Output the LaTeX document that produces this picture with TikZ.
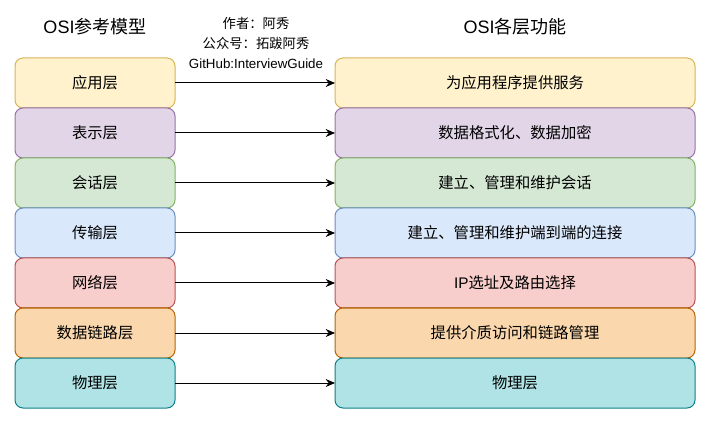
\documentclass[tikz,border=0pt]{standalone}
\usepackage{fontspec}
\setmainfont{Noto Sans CJK SC}
\newfontfamily\lat{Liberation Sans}
\usepackage{tikz}
\usetikzlibrary{arrows.meta, positioning}
\definecolor{yfill}{HTML}{FFF2CC}\definecolor{ydraw}{HTML}{D6B656}
\definecolor{pfill}{HTML}{E1D5E7}\definecolor{pdraw}{HTML}{9673A6}
\definecolor{gfill}{HTML}{D5E8D4}\definecolor{gdraw}{HTML}{82B366}
\definecolor{bfill}{HTML}{DAE8FC}\definecolor{bdraw}{HTML}{6C8EBF}
\definecolor{rfill}{HTML}{F8CECC}\definecolor{rdraw}{HTML}{B85450}
\definecolor{ofill}{HTML}{FAD7AC}\definecolor{odraw}{HTML}{B46504}
\definecolor{cfill}{HTML}{B0E3E6}\definecolor{cdraw}{HTML}{0E8088}
\tikzstyle{layer} = [rectangle, rounded corners=6pt, minimum width=120pt, minimum height=37.5pt, inner sep=0pt, outer sep=0pt, text centered, line width=0.75pt, font=\fontsize{11.5pt}{13pt}\selectfont]
\tikzstyle{func} = [layer, minimum width=270pt]
\tikzstyle{title} = [font=\fontsize{13.5pt}{15pt}\selectfont]
\tikzstyle{arrow} = [line width=0.75pt, -{Stealth[length=7pt,width=6pt]}]

\begin{document}
\begin{tikzpicture}[x=0.75pt, y=-0.75pt, node distance=37.5pt]
\useasboundingbox (0,0) rectangle (711,424);
\node (ttl) [title] at (95,27) {{\lat OSI}参考模型};
\node (ttr) [title] at (515,27) {{\lat OSI}各层功能};
\node (auth) [align=center, font=\fontsize{10pt}{15pt}\selectfont] at (256,43) {作者：阿秀\\公众号：拓跋阿秀\\{\lat GitHub:InterviewGuide}};

\node (l1) [layer, draw=ydraw, fill=yfill] at (95,83) {应用层};
\node (l2) [layer, draw=pdraw, fill=pfill, below of=l1] {表示层};
\node (l3) [layer, draw=gdraw, fill=gfill, below of=l2] {会话层};
\node (l4) [layer, draw=bdraw, fill=bfill, below of=l3] {传输层};
\node (l5) [layer, draw=rdraw, fill=rfill, below of=l4] {网络层};
\node (l6) [layer, draw=odraw, fill=ofill, below of=l5] {数据链路层};
\node (l7) [layer, draw=cdraw, fill=cfill, below of=l6] {物理层};

\node (f1) [func, draw=ydraw, fill=yfill, right=120pt of l1] {为应用程序提供服务};
\node (f2) [func, draw=pdraw, fill=pfill, below of=f1] {数据格式化、数据加密};
\node (f3) [func, draw=gdraw, fill=gfill, below of=f2] {建立、管理和维护会话};
\node (f4) [func, draw=bdraw, fill=bfill, below of=f3] {建立、管理和维护端到端的连接};
\node (f5) [func, draw=rdraw, fill=rfill, below of=f4] {{\lat IP}选址及路由选择};
\node (f6) [func, draw=odraw, fill=ofill, below of=f5] {提供介质访问和链路管理};
\node (f7) [func, draw=cdraw, fill=cfill, below of=f6] {物理层};

\draw [arrow] (l1) -- (f1);
\draw [arrow] (l2) -- (f2);
\draw [arrow] (l3) -- (f3);
\draw [arrow] (l4) -- (f4);
\draw [arrow] (l5) -- (f5);
\draw [arrow] (l6) -- (f6);
\draw [arrow] (l7) -- (f7);
\end{tikzpicture}
\end{document}
